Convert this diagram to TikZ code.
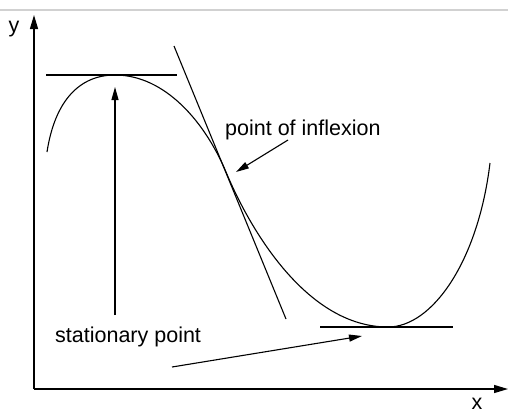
\documentclass[tikz,border=0pt]{standalone}
\usepackage{fontspec}
\setmainfont{Liberation Sans}
\usetikzlibrary{arrows.meta}

\begin{document}
\begin{tikzpicture}[x=1pt,y=-1pt,
  lbl/.style={font=\fontsize{21.5}{26}\selectfont,inner sep=0pt},
  ax/.style={line width=1.3pt,-{Triangle[length=14pt,width=8pt]}},
  ar/.style={line width=1.1pt,-{Triangle[length=13pt,width=7pt]}},
  ln/.style={line width=1.1pt}]
\useasboundingbox (0,0) rectangle (508,413);
\draw[black!18,line width=1.5pt] (0,10) -- (508,10);
% ---- axes ----
\coordinate (o) at (34,389);
\coordinate (ytop) at (34,15);
\coordinate (xend) at (508,389);
\draw[ax] (o) -- (ytop);
\draw[ax] (o) -- (xend);
\node[lbl] (ylab) at (14,29) {y};
\node[lbl] (xlab) at (477,403.5) {x};
% ---- curve ----
\coordinate (cs) at (47,152);
\coordinate (mx) at (115,75);
\coordinate (infl) at (226,172);
\coordinate (mn) at (388,327);
\coordinate (ce) at (490,163);
\draw[ln] (cs) .. controls (55,100) and (80,75) .. (mx)
  .. controls (165,75) and (205,122) .. (infl)
  .. controls (251,232) and (308,327) .. (mn)
  .. controls (432,327) and (478,262) .. (ce);
% ---- tangents ----
\coordinate (ta) at (46,75);   \coordinate (tb) at (177,75);
\coordinate (tc) at (174,46);  \coordinate (td) at (286,319);
\coordinate (te) at (320,327); \coordinate (tf) at (453,327);
\draw[ln] (ta) -- (tb);
\draw[ln] (tc) -- (td);
\draw[ln] (te) -- (tf);
% ---- labels and pointers ----
\node[lbl,anchor=base west] (inf) at (225,135) {point of inflexion};
\node[lbl,anchor=base west] (stat) at (55,342) {stationary point};
\coordinate (pa) at (288,140); \coordinate (pb) at (236,172);
\coordinate (pc) at (115,315); \coordinate (pd) at (115,87);
\coordinate (pe) at (172,367); \coordinate (pf) at (362,336);
\draw[ar] (pa) -- (pb);
\draw[ar] (pc) -- (pd);
\draw[ar] (pe) -- (pf);
\end{tikzpicture}
\end{document}
